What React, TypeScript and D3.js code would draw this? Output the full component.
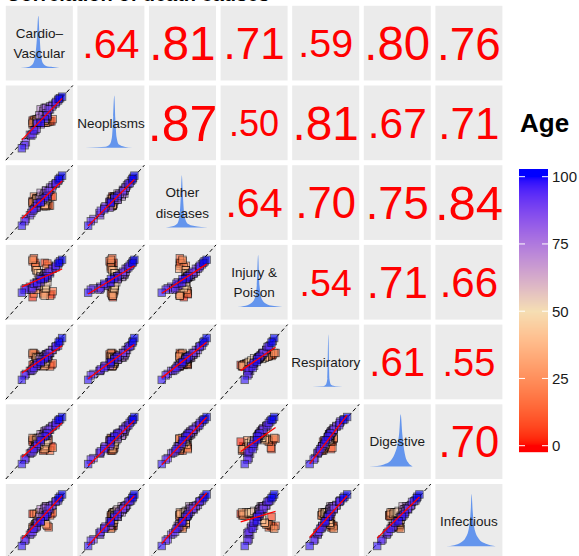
import React from 'react';
import * as d3 from 'd3';

// causes of death, in matrix order
const causes = ['Cardio–\nVascular', 'Neoplasms', 'Other\ndiseases', 'Injury &\nPoison', 'Respiratory', 'Digestive', 'Infectious'];

// correlations shown in the upper triangle, row by row
const corr = [
  [0.64, 0.81, 0.71, 0.59, 0.80, 0.76],
  [0.87, 0.50, 0.81, 0.67, 0.71],
  [0.64, 0.70, 0.75, 0.84],
  [0.54, 0.71, 0.66],
  [0.61, 0.55],
  [0.70],
];

// one entry per observation (scaled rates, 0..1)
const age = [0, 5, 10, 15, 20, 25, 30, 35, 40, 45, 50, 55, 60, 65, 70, 75, 80, 85, 90, 95, 100,
  3, 8, 13, 18, 23, 28, 33, 38, 43, 48, 53, 58, 63, 68, 73, 78, 83, 88, 93, 98, 90, 96, 99, 86, 94,
  80, 82, 84, 86, 88, 90, 92, 94, 96, 98, 100, 85, 91, 97, 79, 76, 72, 12, 22, 32, 42, 2, 17, 27];
const cardio = [0.68, 0.58, 0.40, 0.66, 0.45, 0.60, 0.40, 0.58, 0.46, 0.60, 0.52, 0.62, 0.58, 0.60, 0.52, 0.58, 0.66, 0.70, 0.78, 0.81, 0.84,
  0.44, 0.56, 0.42, 0.70, 0.44, 0.56, 0.46, 0.58, 0.48, 0.60, 0.52, 0.62, 0.55, 0.58, 0.60, 0.55, 0.46, 0.36, 0.28, 0.24, 0.30, 0.42, 0.52, 0.66, 0.74,
  0.60, 0.61, 0.52, 0.69, 0.46, 0.64, 0.40, 0.75, 0.47, 0.58, 0.79, 0.44, 0.38, 0.62, 0.60, 0.50, 0.56, 0.64, 0.42, 0.60, 0.50, 0.40, 0.62, 0.46];
const neoplasms = [0.52, 0.50, 0.48, 0.52, 0.50, 0.52, 0.50, 0.53, 0.52, 0.55, 0.56, 0.58, 0.60, 0.66, 0.68, 0.70, 0.72, 0.74, 0.80, 0.83, 0.85,
  0.54, 0.50, 0.52, 0.55, 0.50, 0.51, 0.54, 0.53, 0.55, 0.56, 0.56, 0.60, 0.62, 0.66, 0.70, 0.60, 0.48, 0.34, 0.20, 0.16, 0.24, 0.40, 0.50, 0.68, 0.76,
  0.59, 0.63, 0.48, 0.72, 0.42, 0.68, 0.35, 0.78, 0.50, 0.55, 0.82, 0.40, 0.33, 0.60, 0.70, 0.60, 0.66, 0.52, 0.54, 0.50, 0.56, 0.53, 0.51, 0.55];
const other = [0.58, 0.46, 0.50, 0.46, 0.55, 0.47, 0.50, 0.46, 0.55, 0.52, 0.58, 0.55, 0.62, 0.60, 0.63, 0.62, 0.70, 0.73, 0.79, 0.83, 0.86,
  0.48, 0.50, 0.46, 0.58, 0.52, 0.45, 0.55, 0.47, 0.55, 0.54, 0.57, 0.58, 0.60, 0.61, 0.66, 0.54, 0.43, 0.33, 0.25, 0.19, 0.28, 0.41, 0.50, 0.67, 0.75,
  0.57, 0.62, 0.51, 0.70, 0.45, 0.65, 0.39, 0.76, 0.49, 0.56, 0.81, 0.43, 0.36, 0.59, 0.66, 0.54, 0.58, 0.46, 0.58, 0.45, 0.56, 0.52, 0.47, 0.56];
const injury = [0.34, 0.76, 0.78, 0.32, 0.72, 0.38, 0.80, 0.32, 0.66, 0.42, 0.62, 0.50, 0.58, 0.60, 0.58, 0.60, 0.64, 0.68, 0.74, 0.78, 0.80,
  0.76, 0.36, 0.82, 0.38, 0.70, 0.34, 0.66, 0.42, 0.62, 0.46, 0.57, 0.56, 0.57, 0.60, 0.62, 0.54, 0.50, 0.44, 0.40, 0.36, 0.42, 0.48, 0.54, 0.62, 0.70,
  0.58, 0.60, 0.50, 0.68, 0.46, 0.64, 0.42, 0.72, 0.49, 0.55, 0.76, 0.45, 0.40, 0.58, 0.62, 0.55, 0.57, 0.72, 0.35, 0.68, 0.45, 0.30, 0.75, 0.40];
const respiratory = [0.46, 0.58, 0.60, 0.44, 0.58, 0.47, 0.62, 0.45, 0.56, 0.50, 0.54, 0.55, 0.56, 0.57, 0.56, 0.58, 0.62, 0.66, 0.72, 0.78, 0.82,
  0.60, 0.46, 0.62, 0.48, 0.57, 0.44, 0.56, 0.48, 0.55, 0.52, 0.54, 0.56, 0.55, 0.57, 0.60, 0.53, 0.45, 0.38, 0.32, 0.26, 0.34, 0.42, 0.50, 0.62, 0.70,
  0.56, 0.59, 0.49, 0.66, 0.45, 0.62, 0.40, 0.71, 0.48, 0.54, 0.76, 0.44, 0.38, 0.57, 0.60, 0.53, 0.56, 0.58, 0.47, 0.57, 0.50, 0.46, 0.60, 0.48];
const digestive = [0.44, 0.40, 0.52, 0.38, 0.50, 0.42, 0.55, 0.40, 0.52, 0.48, 0.55, 0.52, 0.60, 0.58, 0.60, 0.64, 0.68, 0.71, 0.77, 0.80, 0.83,
  0.50, 0.38, 0.54, 0.42, 0.52, 0.40, 0.54, 0.44, 0.55, 0.50, 0.56, 0.58, 0.60, 0.62, 0.63, 0.56, 0.44, 0.34, 0.26, 0.20, 0.28, 0.40, 0.52, 0.66, 0.72,
  0.59, 0.62, 0.50, 0.70, 0.44, 0.66, 0.37, 0.75, 0.47, 0.57, 0.79, 0.42, 0.35, 0.61, 0.65, 0.54, 0.58, 0.53, 0.40, 0.54, 0.46, 0.50, 0.42, 0.52];
const infectious = [0.60, 0.56, 0.42, 0.58, 0.46, 0.60, 0.40, 0.62, 0.48, 0.62, 0.58, 0.64, 0.66, 0.70, 0.66, 0.68, 0.70, 0.72, 0.78, 0.83, 0.86,
  0.44, 0.58, 0.44, 0.62, 0.46, 0.58, 0.48, 0.60, 0.52, 0.62, 0.58, 0.64, 0.62, 0.66, 0.70, 0.56, 0.44, 0.32, 0.24, 0.17, 0.26, 0.40, 0.50, 0.66, 0.76,
  0.58, 0.63, 0.50, 0.71, 0.43, 0.67, 0.36, 0.77, 0.48, 0.56, 0.81, 0.41, 0.34, 0.60, 0.68, 0.56, 0.62, 0.42, 0.60, 0.46, 0.62, 0.60, 0.44, 0.60];
const values = [cardio, neoplasms, other, injury, respiratory, digestive, infectious];

// density curves on the diagonal: [value, relative height]
const cardioDensity = [[0.22, 0], [0.3, 0.01], [0.37, 0.04], [0.41, 0.09], [0.44, 0.24], [0.465, 0.58], [0.485, 1], [0.505, 0.6], [0.525, 0.25], [0.555, 0.09], [0.6, 0.04], [0.7, 0.02], [0.8, 0]];
const neoplasmsDensity = [[0.12, 0], [0.3, 0.01], [0.42, 0.02], [0.48, 0.06], [0.515, 0.2], [0.535, 0.6], [0.55, 1], [0.565, 0.58], [0.585, 0.2], [0.62, 0.06], [0.7, 0.02], [0.82, 0]];
const otherDensity = [[0.25, 0], [0.35, 0.02], [0.42, 0.07], [0.455, 0.22], [0.475, 0.6], [0.49, 1], [0.505, 0.62], [0.53, 0.22], [0.58, 0.07], [0.66, 0.03], [0.78, 0.01], [0.88, 0]];
const injuryDensity = [[0.25, 0], [0.35, 0.02], [0.45, 0.07], [0.51, 0.17], [0.54, 0.42], [0.56, 1], [0.58, 0.42], [0.62, 0.14], [0.7, 0.05], [0.8, 0.02], [0.92, 0]];
const respiratoryDensity = [[0.3, 0], [0.45, 0.01], [0.5, 0.04], [0.525, 0.16], [0.54, 1], [0.555, 0.16], [0.58, 0.04], [0.65, 0.01], [0.75, 0]];
const digestiveDensity = [[0.08, 0], [0.2, 0.01], [0.3, 0.04], [0.4, 0.11], [0.46, 0.24], [0.5, 0.4], [0.53, 0.66], [0.55, 1], [0.575, 0.62], [0.61, 0.26], [0.66, 0.08], [0.73, 0]];
const infectiousDensity = [[0.16, 0], [0.28, 0.02], [0.38, 0.07], [0.45, 0.16], [0.5, 0.35], [0.53, 0.75], [0.54, 1], [0.555, 0.7], [0.59, 0.3], [0.65, 0.14], [0.73, 0.06], [0.82, 0.02], [0.9, 0]];
const densities = [cardioDensity, neoplasmsDensity, otherDensity, injuryDensity, respiratoryDensity, digestiveDensity, infectiousDensity];

const ageTicks = [0, 25, 50, 75, 100];

const FONT = '"Liberation Sans", Arial, Helvetica, sans-serif';

function fit(xs: number[], ys: number[]) {
  const mx = d3.mean(xs) as number;
  const my = d3.mean(ys) as number;
  let sxy = 0, sxx = 0;
  xs.forEach((v, i) => { sxy += (v - mx) * (ys[i] - my); sxx += (v - mx) * (v - mx); });
  const b = sxy / sxx;
  return { b, a: my - b * mx };
}

export default function App() {
  const W = 579, H = 556;
  const n = causes.length;

  const col = d3.scaleBand<number>().domain(d3.range(n)).range([5.8, 502.4]).paddingInner(0.064);
  const row = d3.scaleBand<number>().domain(d3.range(n)).range([5.8, 558.7]).paddingInner(0.0627);
  const pw = col.bandwidth();
  const ph = row.bandwidth();

  const x = d3.scaleLinear().domain([0, 1]).range([0, pw]);
  const y = d3.scaleLinear().domain([0, 1]).range([ph, 0]);
  const dy = d3.scaleLinear().domain([0, 1]).range([ph - 12.5, 10]);

  const color = d3.scaleLinear<string>().domain([0, 50, 100]).range(['red', 'wheat', 'blue'])
    .interpolate(d3.interpolateLab).clamp(true);

  const area = d3.area<number[]>().x(d => x(d[0])).y0(ph - 12.5).y1(d => dy(d[1])).curve(d3.curveMonotoneX);
  const fontSize = d3.scaleLinear().domain([0.5, 0.87]).range([36, 50]);
  const fmt = (r: number) => d3.format('.2f')(r).replace(/^0/, '');

  const order = d3.range(age.length).sort((a, b) => age[a] - age[b]);
  const sq = 7.5;

  // legend
  const ly = d3.scaleLinear().domain([0, 100]).range([445.7, 176.7]);
  const barTop = 169, barBot = 452, barX = 519, barW = 29;

  const panels: React.ReactNode[] = [];
  for (let i = 0; i < n; i++) {
    for (let j = 0; j < n; j++) {
      const key = `${i}-${j}`;
      const tx = col(j) as number, ty = row(i) as number;
      const content: React.ReactNode[] = [];
      if (i === j) {
        content.push(<path key="d" d={area(densities[i]) || ''} fill="#6495ED" />);
        const lines = causes[i].split('\n');
        lines.forEach((ln, k) => {
          const off = lines.length === 1 ? 0 : (k === 0 ? -10.3 : 10.3);
          content.push(
            <text key={'t' + k} x={pw / 2} y={ph / 2 + off} dy="0.35em" textAnchor="middle"
              fontSize={13.5} fill="#1a1a1a">{ln}</text>
          );
        });
      } else if (j > i) {
        const r = corr[i][j - i - 1];
        content.push(
          <text key="c" x={pw / 2} y={ph / 2} dy="0.36em" textAnchor="middle"
            fontSize={fontSize(r)} fill="#ff0000">{fmt(r)}</text>
        );
      } else {
        const xs = values[j], ys = values[i];
        const { a, b } = fit(xs, ys);
        const [x0, x1] = d3.extent(xs) as [number, number];
        content.push(
          <line key="id" x1={x(0)} y1={y(0)} x2={x(1)} y2={y(1)} stroke="#000" strokeWidth={1}
            strokeDasharray="4,3" />
        );
        order.forEach(k => {
          content.push(
            <rect key={'p' + k} x={x(xs[k]) - sq / 2} y={y(ys[k]) - sq / 2} width={sq} height={sq}
              fill={color(age[k])} stroke="#000" strokeWidth={0.8} opacity={0.6} />
          );
        });
        content.push(
          <line key="fit" x1={x(x0)} y1={y(a + b * x0)} x2={x(x1)} y2={y(a + b * x1)}
            stroke="#ff0000" strokeWidth={1.3} />
        );
      }
      panels.push(
        <g key={key} transform={`translate(${tx},${ty})`}>
          <rect width={pw} height={ph} fill="#EBEBEB" />
          {content}
        </g>
      );
    }
  }

  const barRows = d3.range(barTop, barBot, 1);

  return (
    <svg width={W} height={H} style={{ position: 'absolute', left: 0, top: 0, background: '#fff' }}
      fontFamily={FONT}>
      <text x={6} y={1} fontSize={20} fontWeight="bold" fill="#000">Correlation of death causes</text>
      {panels}
      <text x={520} y={132} fontSize={26} fontWeight="bold" fill="#000">Age</text>
      {barRows.map(py => (
        <rect key={py} x={barX} y={py} width={barW} height={1.2} fill={color(ly.invert(py + 0.5))} />
      ))}
      {ageTicks.map(t => (
        <g key={t}>
          <line x1={barX} x2={barX + 6} y1={ly(t)} y2={ly(t)} stroke="#fff" strokeWidth={1} />
          <line x1={barX + barW - 6} x2={barX + barW} y1={ly(t)} y2={ly(t)} stroke="#fff" strokeWidth={1} />
          <text x={552} y={ly(t)} dy="0.36em" fontSize={15} fill="#1a1a1a">{t}</text>
        </g>
      ))}
    </svg>
  );
}
